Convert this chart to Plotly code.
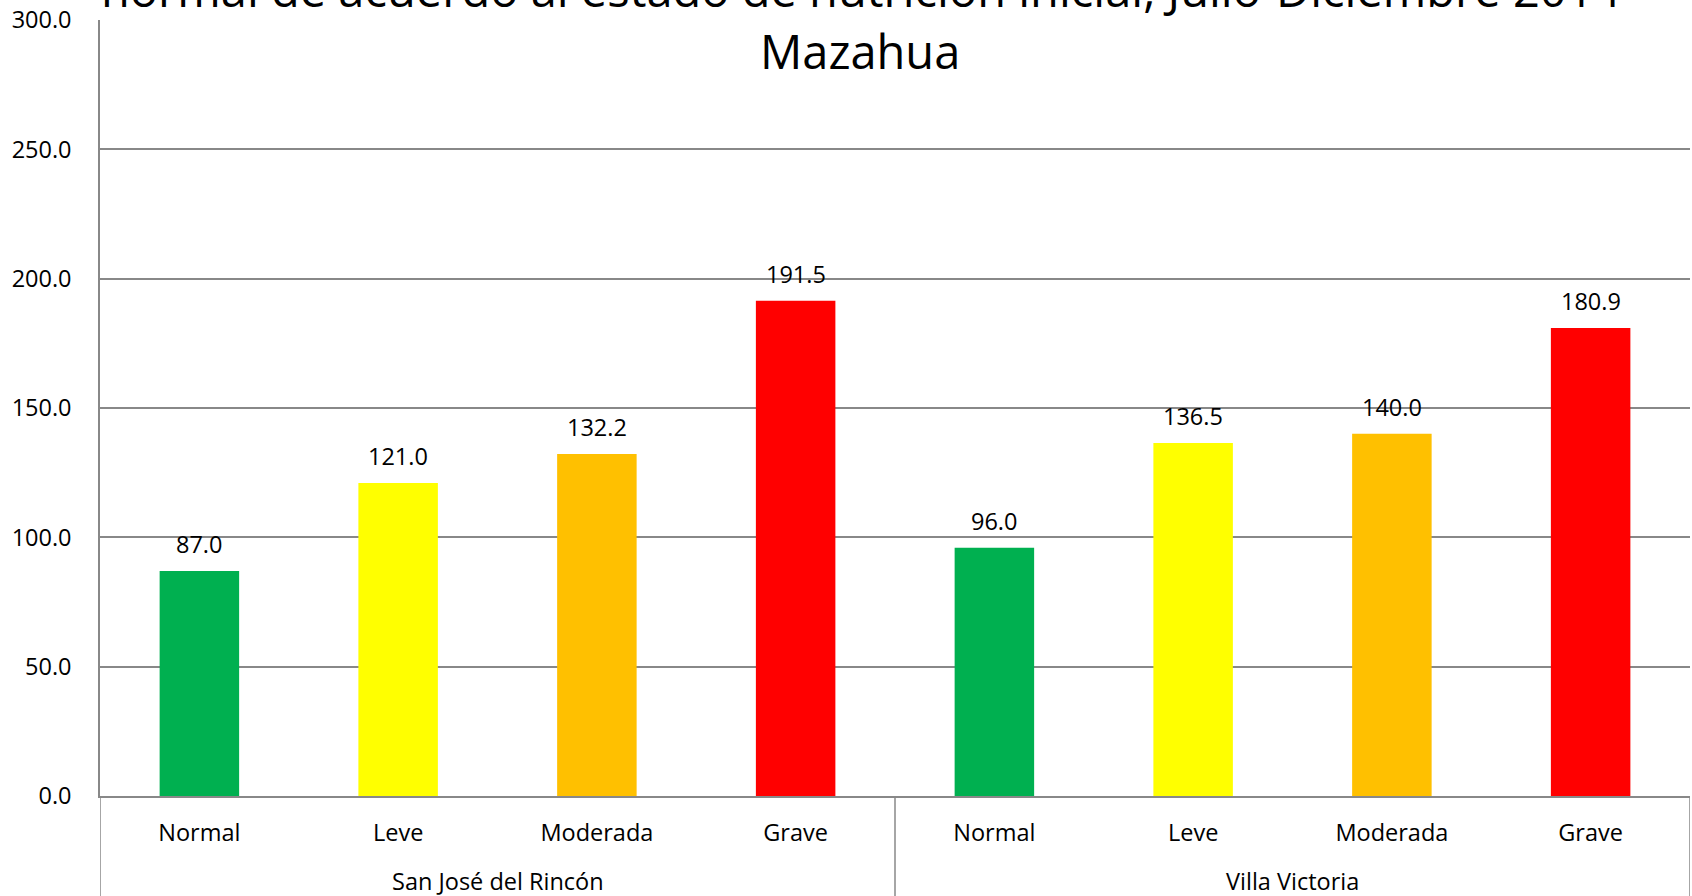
import plotly.graph_objects as go

# Data: recovery days by municipality and initial nutrition status
municipios = ["San José del Rincón", "Villa Victoria"]
estados = ["Normal", "Leve", "Moderada", "Grave"]
valores_rincon = [87.0, 121.0, 132.2, 191.5]
valores_victoria = [96.0, 136.5, 140.0, 180.9]
colores_estado = ["#00B050", "#FFFF00", "#FFC000", "#FF0000"]

titulo_linea1 = "normal de acuerdo al estado de nutrición inicial, Julio-Diciembre 2014"
titulo_linea2 = "Mazahua"

valores = valores_rincon + valores_victoria
etiquetas = estados * len(municipios)
colores = colores_estado * len(municipios)
posiciones = list(range(len(valores)))
n_est = len(estados)

FONT = "Open Sans"
GRID = "#888888"
TXT = 23.5
PLOT_H = 896 - 20 - 100  # plot-area height in px, used for paper offsets below the axis

fig = go.Figure()
fig.add_trace(go.Bar(
    x=posiciones,
    y=valores,
    marker=dict(color=colores, line=dict(width=0)),
    width=0.4,
    showlegend=False,
    hoverinfo="skip",
))

# value labels above each bar
for xp, v in zip(posiciones, valores):
    fig.add_annotation(
        x=xp, y=v, xref="x", yref="y",
        text=f"{v:.1f}", showarrow=False,
        yanchor="bottom", yshift=9,
        font=dict(family=FONT, size=TXT, color="black"),
    )

# municipality labels (second category level) and group dividers
for g, muni in enumerate(municipios):
    centro = g * n_est + (n_est - 1) / 2
    fig.add_annotation(
        x=centro, y=-85 / PLOT_H, xref="x", yref="paper",
        text=muni, showarrow=False, yanchor="middle", borderpad=0,
        font=dict(family=FONT, size=TXT, color="black"),
    )
for g in range(len(municipios) + 1):
    fig.add_shape(
        type="line", xref="x", yref="paper",
        x0=g * n_est - 0.5, x1=g * n_est - 0.5,
        y0=0, y1=-100 / PLOT_H,
        line=dict(color=GRID, width=1.5),
    )

# chart title (first line runs past the top of the page)
fig.add_annotation(
    x=0.478, y=1.0, xref="paper", yref="paper",
    text=titulo_linea1, showarrow=False, yanchor="middle", yshift=31,
    font=dict(family=FONT, size=47, color="black"),
)
fig.add_annotation(
    x=0.478, y=1.0, xref="paper", yref="paper",
    text=titulo_linea2, showarrow=False, yanchor="middle", yshift=-31,
    font=dict(family=FONT, size=47, color="black"),
)

fig.update_layout(
    width=1692, height=896,
    margin=dict(l=100, r=2, t=20, b=100),
    paper_bgcolor="white", plot_bgcolor="white",
    font=dict(family=FONT, color="black"),
)
fig.update_yaxes(
    range=[0, 300], dtick=50, tickformat=".1f",
    showgrid=True, gridcolor=GRID, gridwidth=1.5,
    showline=True, linecolor=GRID, linewidth=1.5,
    ticks="", ticklabelstandoff=22,
    tickfont=dict(family=FONT, size=TXT, color="black"),
    zeroline=False,
)
fig.update_xaxes(
    range=[-0.5, len(valores) - 0.5],
    tickvals=posiciones, ticktext=etiquetas,
    showline=True, linecolor=GRID, linewidth=1.5,
    showgrid=False, zeroline=False,
    ticks="", ticklabelstandoff=15,
    tickfont=dict(family=FONT, size=TXT, color="black"),
)

fig.write_html("out.html")
